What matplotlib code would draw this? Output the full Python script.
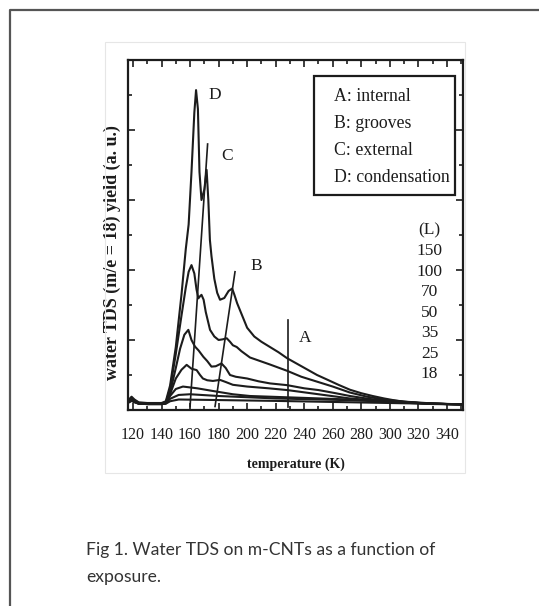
import matplotlib.pyplot as plt
from matplotlib.lines import Line2D
from matplotlib.patches import Rectangle
from matplotlib.ticker import MultipleLocator

plt.rcParams['font.family'] = 'Liberation Serif'

# TDS curves, one per exposure (L), temperature in K, yield in a.u.
t150 = [116, 119, 121, 124, 130, 140, 143, 146, 150, 154, 157, 159, 161, 163, 164.2, 165.5, 166.6, 168, 170, 171.6,
        172.8, 173.9, 175, 177, 179, 181, 184, 187, 189.5, 191, 193, 196, 200, 205, 210, 216, 222, 228, 235, 242,
        249, 256, 264, 272, 280, 288, 296, 304, 312, 320, 330, 340, 351]
y150 = [0.25, 0.38, 0.3, 0.22, 0.2, 0.2, 0.25, 0.7, 1.8, 3.3, 4.6, 5.3, 6.8, 8.5, 9.14, 8.6, 6.8, 6.0, 6.3, 6.86,
        6.0, 4.86, 4.4, 3.75, 3.35, 3.15, 3.2, 3.4, 3.47, 3.3, 3.05, 2.75, 2.35, 2.1, 1.95, 1.8, 1.65, 1.48, 1.32, 1.16,
        1.0, 0.87, 0.72, 0.58, 0.48, 0.4, 0.33, 0.27, 0.23, 0.2, 0.18, 0.17, 0.16]

t100 = [116, 119, 121, 124, 130, 140, 143, 146, 150, 154, 157, 159, 161, 163, 164.5, 165.8, 167, 168, 169.5, 171,
        174, 177, 180, 183, 185.7, 188, 190, 192.7, 196, 202, 209, 216, 228, 238, 249, 260, 272, 284, 296, 310,
        325, 340, 351]
y100 = [0.22, 0.34, 0.28, 0.2, 0.18, 0.18, 0.22, 0.6, 1.6, 2.7, 3.5, 3.95, 4.14, 3.9, 3.45, 3.19, 3.25, 3.29, 3.15, 2.8,
        2.29, 2.1, 2.0, 2.02, 2.05, 1.95, 1.85, 1.8, 1.68, 1.5, 1.4, 1.3, 1.12, 0.95, 0.81, 0.67, 0.5, 0.38, 0.3, 0.24,
        0.2, 0.17, 0.16]

t70 = [116, 119, 121, 124, 130, 140, 143, 146, 150, 153, 156, 158.8, 161, 163.5, 166, 169.3, 172, 175, 178, 182,
       185, 188, 192, 200, 208, 216, 228, 240, 250, 262, 272, 285, 300, 315, 330, 351]
y70 = [0.22, 0.32, 0.27, 0.2, 0.18, 0.18, 0.2, 0.5, 1.2, 1.75, 2.15, 2.29, 2.0, 1.81, 1.7, 1.52, 1.4, 1.24, 1.25, 1.33,
       1.2, 1.0, 0.95, 0.9, 0.82, 0.76, 0.71, 0.62, 0.57, 0.48, 0.4, 0.32, 0.25, 0.2, 0.17, 0.16]

t50 = [116, 119, 121, 124, 130, 140, 143, 146, 150, 154, 157.6, 161, 164.6, 167, 169, 172, 176, 181, 185, 190,
       200, 215, 228, 250, 272, 290, 310, 330, 351]
y50 = [0.2, 0.3, 0.25, 0.19, 0.17, 0.17, 0.2, 0.45, 0.9, 1.15, 1.29, 1.18, 1.14, 1.0, 0.9, 0.85, 0.83, 0.86, 0.8, 0.72,
       0.67, 0.62, 0.57, 0.45, 0.33, 0.27, 0.22, 0.18, 0.16]

t35 = [116, 119, 121, 124, 130, 140, 143, 146, 150, 155, 165, 175, 190, 202, 230, 272, 300, 330, 351]
y35 = [0.2, 0.28, 0.24, 0.18, 0.17, 0.17, 0.19, 0.4, 0.6, 0.67, 0.62, 0.55, 0.45, 0.4, 0.36, 0.3, 0.25, 0.18, 0.16]

t25 = [116, 119, 121, 124, 130, 140, 143, 146, 152, 160, 180, 220, 272, 320, 351]
y25 = [0.2, 0.27, 0.23, 0.18, 0.17, 0.17, 0.19, 0.32, 0.43, 0.45, 0.4, 0.33, 0.28, 0.2, 0.16]

t18 = [116, 119, 121, 124, 130, 140, 143, 146, 152, 170, 220, 300, 351]
y18 = [0.19, 0.26, 0.22, 0.18, 0.17, 0.17, 0.18, 0.25, 0.3, 0.29, 0.26, 0.2, 0.16]

# guide lines for the desorption features
line_a_t, line_a_y = [228.6, 228.6], [0.1, 2.57]
line_b_t, line_b_y = [177.5, 191.5], [0.1, 3.95]
line_c_t, line_c_y = [160.0, 172.3], [0.1, 7.6]

peak_labels = ['A', 'B', 'C', 'D']
label_t = [235.9, 202.0, 182.2, 172.8]
label_y = [2.05, 4.1, 7.26, 9.0]

legend_lines = ['A: internal', 'B: grooves', 'C: external', 'D: condensation']
exposures = ['(L)', '150', '100', '70', '50', '35', '25', '18']

x_ticks = list(range(120, 341, 20))

fig = plt.figure(figsize=(5.39, 6.06), dpi=100)

# page frame and embedded image border
fig.add_artist(Line2D([10 / 539, 10 / 539, 1.0], [0.0, 1 - 10 / 606, 1 - 10 / 606],
                      transform=fig.transFigure, color='#555555', lw=1.6))
fig.add_artist(Rectangle((105 / 539, 1 - 473 / 606), 360 / 539, 431 / 606,
                         transform=fig.transFigure, fill=False, ec='#e6e6e6', lw=0.8))

ax = fig.add_axes([128 / 539, 1 - 410 / 606, 335 / 539, 350 / 606])

curves = [(t150, y150), (t100, y100), (t70, y70), (t50, y50), (t35, y35), (t25, y25), (t18, y18)]
for t, y in curves:
    ax.plot(t, y, color='#1c1c1c', lw=1.5)

for lt, ly in [(line_a_t, line_a_y), (line_b_t, line_b_y), (line_c_t, line_c_y)]:
    ax.plot(lt, ly, color='#1c1c1c', lw=1.2)

for lab, tt, yy in zip(peak_labels, label_t, label_y):
    ax.text(tt, yy, lab, fontsize=12.5, ha='left', va='center', color='#1c1c1c')

# legend box drawn by hand
ax.add_patch(Rectangle((0.556, 0.614), 0.42, 0.34, transform=ax.transAxes,
                       fill=False, ec='#1c1c1c', lw=1.6))
for i, s in enumerate(legend_lines):
    ax.text(0.615, 0.895 - i * 0.077, s, transform=ax.transAxes, fontsize=12.8,
            ha='left', va='center', color='#1c1c1c')

for i, s in enumerate(exposures):
    ax.text(0.9, 0.512 - i * 0.0585, s, transform=ax.transAxes, fontsize=12.5,
            ha='center', va='center', color='#1c1c1c')

ax.set_xlim(116.5, 351.3)
ax.set_ylim(0, 10)
ax.set_xticks(x_ticks)
ax.xaxis.set_minor_locator(MultipleLocator(10))
ax.yaxis.set_major_locator(MultipleLocator(2))
ax.yaxis.set_minor_locator(MultipleLocator(1))
ax.set_yticklabels([])
ax.tick_params(which='both', direction='in', top=True, right=True, width=1.2, color='#1c1c1c')
ax.tick_params(which='major', length=5)
ax.tick_params(which='minor', length=3)
ax.tick_params(axis='x', labelsize=11.5, pad=12, labelcolor='#1c1c1c')
for sp in ax.spines.values():
    sp.set_linewidth(1.6)
    sp.set_color('#1c1c1c')

ax.set_xlabel('temperature (K)', fontsize=10, fontweight='bold', color='#1c1c1c')
ax.xaxis.set_label_coords(0.5, -0.135)
ax.set_ylabel('water TDS (m/e = 18) yield (a. u.)', fontsize=13, fontweight='bold', color='#1c1c1c')
ax.yaxis.set_label_coords(-0.022, 0.45)

fig.text(86 / 539, 1 - 550 / 606, 'Fig 1. Water TDS on m-CNTs as a function of', fontsize=12.6,
         family='Lato', color='#333333', ha='left', va='center')
fig.text(86 / 539, 1 - 577 / 606, 'exposure.', fontsize=12.6,
         family='Lato', color='#333333', ha='left', va='center')

plt.savefig('out.png', dpi=100)
